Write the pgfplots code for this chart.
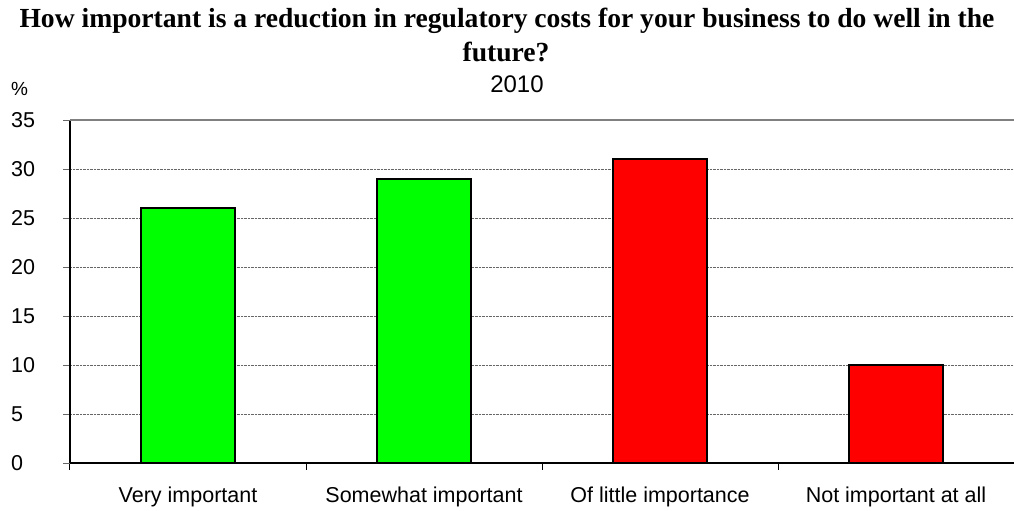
\documentclass[border=0pt]{standalone}
\usepackage{pgfplots}
\pgfplotsset{compat=1.18}
\usepackage{fontspec}
\setmainfont{Liberation Sans}
\newfontfamily\titlefont{Liberation Serif}
\begin{document}
\begin{tikzpicture}[x=1pt,y=1pt]
\useasboundingbox (0,0) rectangle (1014,511);
\begin{axis}[
  at={(70pt,48pt)}, anchor=south west,
  scale only axis, width=944pt, height=343pt,
  xmin=-0.5, xmax=3.5, ymin=0, ymax=35,
  axis x line*=bottom, axis y line*=left,
  axis line style={black, line width=1.2pt},
  ytick={0,5,...,30},
  extra y ticks={35},
  extra y tick style={grid style={solid, gray, line width=2pt}},
  ymajorgrids,
  grid style={densely dotted, gray!80!black, line width=0.9pt},
  tick align=outside,
  major tick length=7pt,
  ytick style={gray!80!black, line width=0.9pt},
  xtick={-0.5,0.5,1.5,2.5,3.5},
  xticklabels={},
  xtick style={black, line width=1pt},
  extra x ticks={0,1,2,3},
  extra x tick labels={Very important, Somewhat important, Of little importance, Not important at all},
  extra x tick style={major tick length=0pt, xmajorgrids=false},
  x tick label style={font=\fontsize{21.5}{24}\selectfont, anchor=base, yshift=-39pt},
  y tick label style={font=\fontsize{21.5}{24}\selectfont, anchor=west, inner sep=0pt, xshift=-52pt},
  /pgf/number format/assume math mode=true,
  clip=false,
]
\addplot[ybar, bar width=0.4, fill={rgb,255:red,0;green,255;blue,0}, draw=black, line width=1.6pt] coordinates {(0,26) (1,29)};
\addplot[ybar, bar width=0.4, fill={rgb,255:red,255;green,0;blue,0}, draw=black, line width=1.6pt] coordinates {(2,31) (3,10)};
\end{axis}
\node[anchor=base, inner sep=0pt, font=\titlefont\bfseries\fontsize{27.6}{30}\selectfont] at (507,483) {How important is a reduction in regulatory costs for your business to do well in the};
\node[anchor=base, inner sep=0pt, font=\titlefont\bfseries\fontsize{27.6}{30}\selectfont] at (506,449) {future?};
\node[anchor=base, inner sep=0pt, font=\fontsize{24}{26}\selectfont] at (517,418) {2010};
\node[anchor=base west, inner sep=0pt, font=\fontsize{19}{22}\selectfont] at (11,415) {\%};
\end{tikzpicture}
\end{document}
